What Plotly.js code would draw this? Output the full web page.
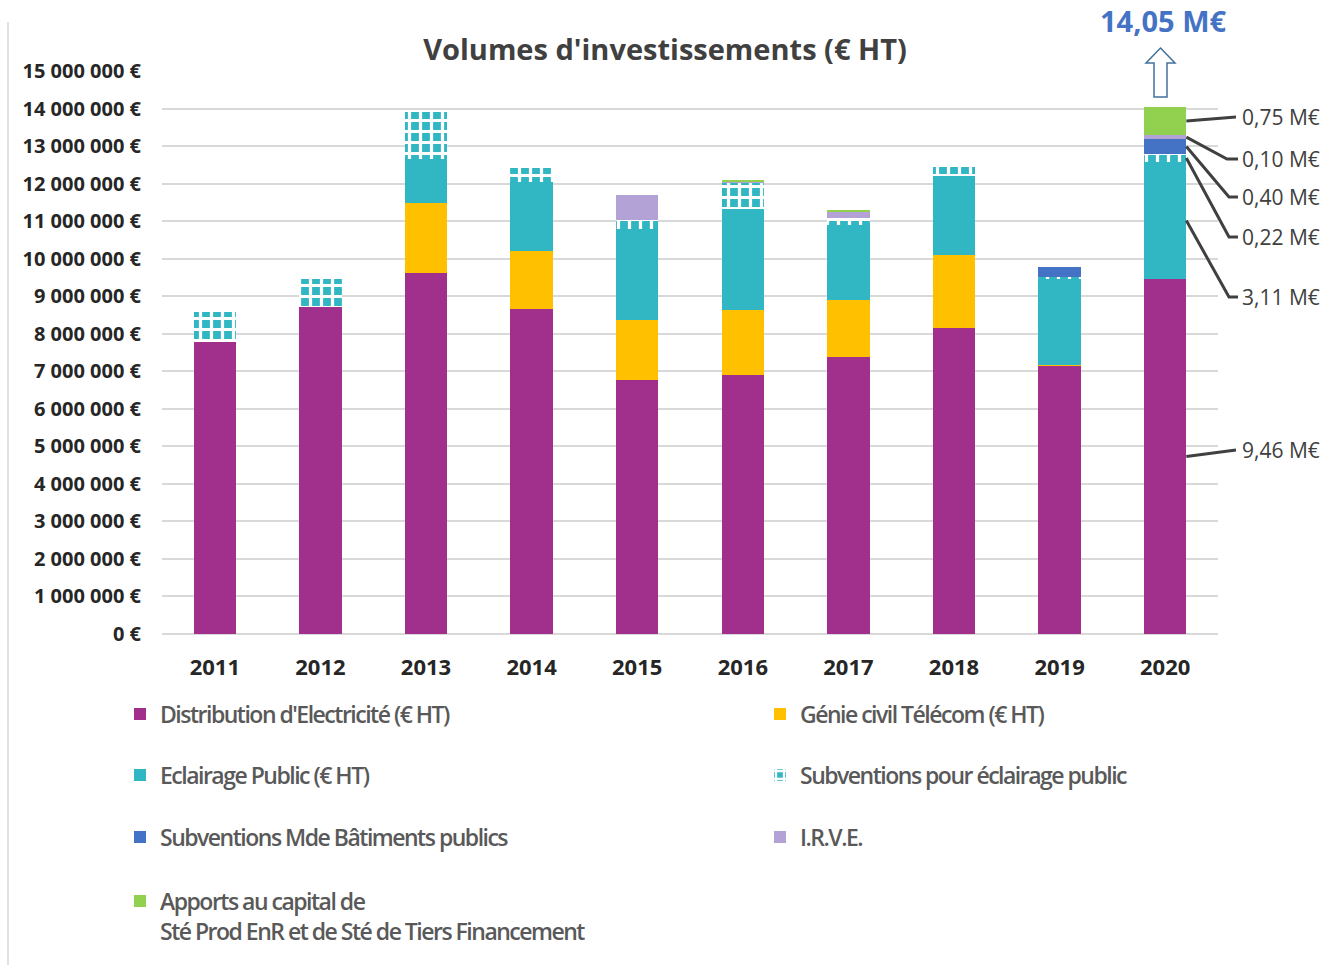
<!DOCTYPE html>
<html>
<head>
<meta charset="utf-8">
<script src="https://cdn.plot.ly/plotly-3.0.1.min.js"></script>
<style>
html,body{margin:0;padding:0;background:#fff;}
#chart [class*="legend"] text{letter-spacing:-1.5px !important;}
</style>
</head>
<body>
<div id="chart" style="width:1325px;height:965px;"></div>
<script>
// ---------- DATA ----------
const years = ['2011','2012','2013','2014','2015','2016','2017','2018','2019','2020'];
const distribution = [7780000, 8700000, 9620000, 8670000, 6770000, 6890000, 7390000, 8160000, 7150000, 9460000];
const genieCivil   = [0, 0, 1870000, 1540000, 1600000, 1740000, 1500000, 1940000, 30000, 0];
const eclairage    = [0, 0, 1170000, 1830000, 2420000, 2690000, 2010000, 2110000, 2270000, 3110000];
const subvEclairage= [800000, 760000, 1250000, 380000, 240000, 690000, 180000, 220000, 50000, 220000];
const subvMde      = [0, 0, 0, 0, 0, 0, 0, 0, 270000, 400000];
const irve         = [0, 0, 0, 0, 660000, 40000, 160000, 0, 0, 100000];
const apports      = [0, 0, 0, 0, 0, 50000, 50000, 0, 0, 750000];

const seriesNames = [
  "Distribution d'Electricité (€ HT)",
  "Génie civil Télécom (€ HT)",
  "Eclairage Public (€ HT)",
  "Subventions pour éclairage public",
  "Subventions Mde Bâtiments publics",
  "I.R.V.E.",
  "Apports au capital de<br>Sté Prod EnR et de Sté de Tiers Financement"
];
const labels2020 = ['9,46 M€', '3,11 M€', '0,22 M€', '0,40 M€', '0,10 M€', '0,75 M€'];
const totalLabel = '14,05 M€';
const chartTitle = "Volumes d'investissements (€ HT)";

// ---------- LAYOUT CONSTANTS ----------
const L = 162, R = 1218, T = 71, B = 634;
const px2x = p => (p - L) / (R - L);
const py2y = p => (B - p) / (B - T);
const yMax = 15000000;
const bargap = 0.6;
const colors = ['#A0308B', '#FFC000', '#31B6C4', '#31B6C4', '#4472C4', '#B3A2D5', '#92D050'];
const allSeries = [distribution, genieCivil, eclairage, subvEclairage, subvMde, irve, apports];
const legendPos = [[120, 714], [760, 714], [120, 775], [760, 775], [120, 837], [760, 837], [120, 916]];
const legendKeys = allSeries.map((s, i) => i === 0 ? 'legend' : 'legend' + (i + 1));

const traces = allSeries.map((vals, i) => {
  const t = {
    type: 'bar', x: years, y: vals, name: seriesNames[i],
    marker: {color: colors[i], line: {width: 0}},
    legend: legendKeys[i], hoverinfo: 'skip'
  };
  if (i === 3) {
    t.marker = {color: '#ffffff', line: {width: 0},
      pattern: {shape: '+', fgcolor: '#ffffff', bgcolor: '#31B6C4', size: 11, solidity: 0.5, fillmode: 'replace'}};
  }
  return t;
});

// ---------- 2020 leader lines & labels ----------
const idx = years.length - 1;
const order2020 = [0, 2, 3, 4, 5, 6];
let cum = [];
let acc = 0;
allSeries.forEach((s) => { cum.push([acc, acc + s[idx]]); acc += s[idx]; });
const barRight = (idx + 0.5) / years.length + (1 - bargap) / 2 / years.length;
const labelPy = [450, 297, 237, 197, 159, 117];
const kinkPx = [null, 1229, 1229, 1229, 1227, null];
const shapes = [];
const annotations = [];
order2020.forEach((si, k) => {
  const midY = (cum[si][0] + cum[si][1]) / 2 / yMax;
  const ly = py2y(labelPy[k]);
  let path = 'M' + barRight + ',' + midY;
  if (kinkPx[k] !== null) {
    path += ' L' + px2x(kinkPx[k]) + ',' + ly + ' L' + px2x(1238) + ',' + ly;
  } else {
    path += ' L' + px2x(1236) + ',' + ly;
  }
  shapes.push({type: 'path', xref: 'paper', yref: 'paper', path: path,
    line: {color: '#404040', width: 3}});
  annotations.push({xref: 'paper', yref: 'paper', x: px2x(1240), y: ly, xanchor: 'left', yanchor: 'middle',
    text: labels2020[k], showarrow: false,
    font: {family: 'Open Sans, sans-serif', size: 21, color: '#404040'}});
});
annotations.push({xref: 'paper', yref: 'paper', x: px2x(1163), y: py2y(20), xanchor: 'center', yanchor: 'middle',
  text: '<b>' + totalLabel + '</b>', showarrow: false,
  font: {family: 'Open Sans, sans-serif', size: 29, color: '#4472C4'}});

const arrowPath = 'M' + px2x(1160.5) + ',' + py2y(48) +
  ' L' + px2x(1175) + ',' + py2y(63) +
  ' L' + px2x(1167) + ',' + py2y(63) +
  ' L' + px2x(1167) + ',' + py2y(97) +
  ' L' + px2x(1154) + ',' + py2y(97) +
  ' L' + px2x(1154) + ',' + py2y(63) +
  ' L' + px2x(1146) + ',' + py2y(63) + ' Z';
shapes.push({type: 'path', xref: 'paper', yref: 'paper', path: arrowPath,
  fillcolor: '#ffffff', line: {color: '#41719C', width: 1.5}});
shapes.push({type: 'line', xref: 'paper', yref: 'paper', x0: px2x(8), x1: px2x(8), y0: py2y(22), y1: py2y(965),
  line: {color: '#D9D9D9', width: 1.5}});

const legendFont = {family: 'Open Sans, sans-serif', size: 23, color: '#595959', weight: 600};

const layout = {
  width: 1325, height: 965,
  margin: {l: L, r: 1325 - R, t: T, b: 965 - B, pad: 0},
  paper_bgcolor: '#ffffff', plot_bgcolor: '#ffffff',
  barmode: 'stack', bargap: bargap,
  separators: ', ',
  title: {text: '<b>' + chartTitle + '</b>', x: 665 / 1325, xref: 'container', xanchor: 'center',
    y: 1 - 50 / 965, yref: 'container', yanchor: 'middle',
    font: {family: 'Open Sans, sans-serif', size: 29, color: '#404040'}},
  xaxis: {type: 'category', showgrid: false, showline: false, zeroline: false, ticks: '',
    tickfont: {family: 'Open Sans, sans-serif', size: 22, color: '#262626', weight: 'bold'},
    ticklabelstandoff: 18},
  yaxis: {range: [0, yMax], dtick: 1000000, tickformat: ',d', ticksuffix: ' €',
    showgrid: true, gridcolor: '#D9D9D9', gridwidth: 2, zeroline: true, zerolinecolor: '#D9D9D9', zerolinewidth: 2,
    showline: false, ticks: '',
    tickfont: {family: 'Open Sans, sans-serif', size: 20, color: '#262626', weight: 'bold'},
    ticklabelstandoff: 20},
  showlegend: true,
  shapes: shapes,
  annotations: annotations
};
legendKeys.forEach((k, i) => {
  layout[k] = {orientation: 'v', font: legendFont, xanchor: 'left', yanchor: 'middle',
    x: px2x(legendPos[i][0]), y: py2y(legendPos[i][1]),
    bgcolor: 'rgba(0,0,0,0)', itemclick: false, valign: 'top'};
});

function condenseLegends(gd) {
  gd.querySelectorAll('.infolayer g[class*="legend"] text').forEach(el => {
    el.style.setProperty('letter-spacing', '-1.5px', 'important');
  });
}
Plotly.newPlot('chart', traces, layout, {staticPlot: true, displayModeBar: false}).then(gd => {
  condenseLegends(gd);
  setTimeout(() => condenseLegends(gd), 50);
});
</script>
</body>
</html>
